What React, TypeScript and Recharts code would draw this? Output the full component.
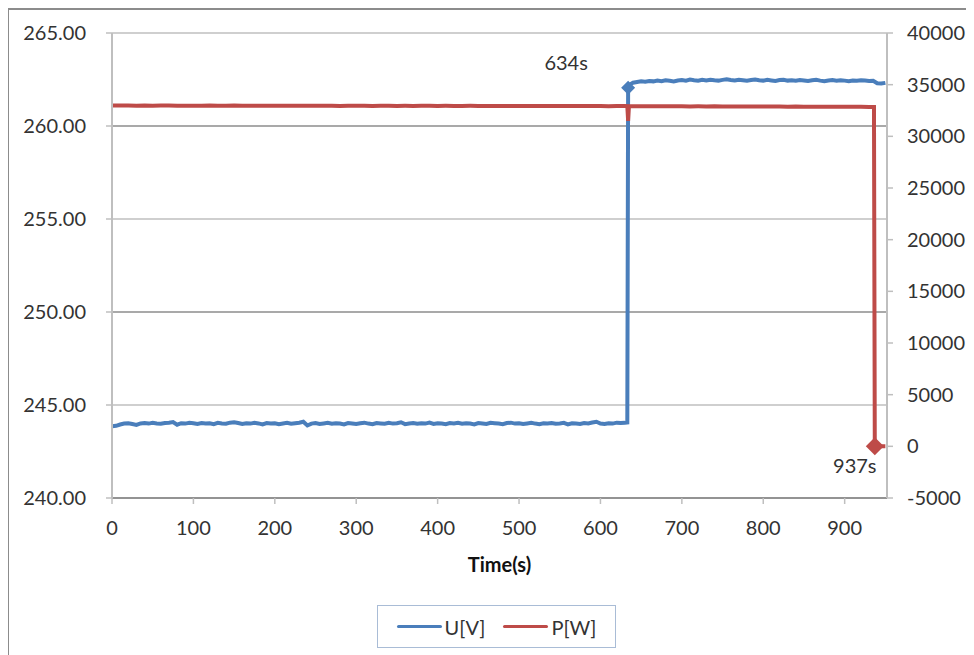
import React from "react";
import { LineChart, Line, XAxis, YAxis, CartesianGrid } from "recharts";

// time grid (s) - sampling grid only
const seq = (from: number, to: number, step: number) => {
  const out: number[] = [];
  for (let t = from; t <= to; t += step) out.push(t);
  return out;
};

const uTimes = [...seq(0, 630, 5), 633, 634, 637, ...seq(640, 950, 5)];
const uValues = [
  243.85, 243.88, 243.95, 244.0, 244.02, 243.98, 243.93, 244.01, 244.03, 244.0,
  244.04, 244.01, 243.99, 244.03, 244.05, 244.08, 243.94, 244.02, 244.0, 244.04,
  244.02, 243.98, 244.03, 244.0, 244.02, 243.97, 244.04, 244.01, 243.99, 244.05,
  244.07, 244.03, 243.98, 244.02, 244.0, 244.04, 244.01, 243.96, 244.03, 244.0,
  244.02, 243.97, 244.01, 244.04, 243.99, 244.02, 244.05, 244.1, 243.9, 244.0,
  244.03, 243.98, 244.01, 244.04, 243.99, 244.02, 244.0, 243.96, 244.03, 244.01,
  243.98, 244.02, 244.05, 244.0, 243.97, 244.03, 244.01, 243.99, 244.04, 244.0,
  244.02, 244.07, 243.97, 244.01, 244.03, 243.99, 244.02, 244.0, 244.05, 243.98,
  244.02, 244.0, 243.97, 244.03, 244.01, 244.04, 243.99, 244.02, 244.0, 243.96,
  244.03, 244.01, 243.98, 244.04, 244.02, 244.0, 243.97, 244.03, 244.05, 244.0,
  244.02, 243.98, 244.01, 244.04, 244.0, 243.97, 244.02, 244.0, 244.03, 243.99,
  244.01, 244.04, 243.96, 244.02, 244.0, 243.98, 244.03, 244.01, 244.06, 244.1,
  244.0, 243.98, 244.02, 244.0, 244.05, 244.03, 244.04,
  244.06, 262.05, 262.25,
  262.33, 262.37, 262.4, 262.38, 262.42, 262.4, 262.44, 262.41, 262.46, 262.43,
  262.4, 262.45, 262.47, 262.44, 262.5, 262.46, 262.43, 262.48, 262.45, 262.49,
  262.46, 262.44, 262.48, 262.51, 262.47, 262.45, 262.49, 262.46, 262.43, 262.47,
  262.5, 262.46, 262.44, 262.48, 262.45, 262.42, 262.47, 262.49, 262.44, 262.46,
  262.43, 262.47, 262.45, 262.42, 262.46, 262.48, 262.44, 262.41, 262.45, 262.47,
  262.43, 262.46, 262.44, 262.41, 262.45, 262.43, 262.46, 262.44, 262.42, 262.43,
  262.3, 262.28, 262.32,
];

const pTimes = [...seq(0, 630, 10), 633, 634, 635, ...seq(640, 930, 10), 936, 937, 944, 950];
const pValues = [
  32980, 32975, 32985, 32970, 32978, 32965, 32972, 32980, 32968, 32960,
  32970, 32962, 32975, 32958, 32966, 32972, 32960, 32955, 32968, 32962,
  32950, 32960, 32955, 32965, 32948, 32958, 32952, 32962, 32945, 32955,
  32950, 32958, 32944, 32952, 32960, 32946, 32950, 32942, 32955, 32948,
  32940, 32950, 32945, 32938, 32948, 32942, 32935, 32945, 32940, 32932,
  32942, 32936, 32930, 32940, 32934, 32928, 32938, 32930, 32925, 32935,
  32928, 32922, 32930, 32925,
  32924, 31500, 32920,
  32915, 32908, 32918, 32905, 32912, 32900, 32910, 32898, 32905, 32895,
  32902, 32890, 32898, 32885, 32892, 32880, 32888, 32876, 32884, 32870,
  32878, 32866, 32874, 32862, 32868, 32858, 32864, 32852, 32860, 32850,
  32845, 0, 0, 0,
];

const xTicks = [0, 100, 200, 300, 400, 500, 600, 700, 800, 900];
const uTicks = [240, 245, 250, 255, 260, 265];
const pTicks = [-5000, 0, 5000, 10000, 15000, 20000, 25000, 30000, 35000, 40000];
const uMarkers = [634];
const pMarkers = [937];

const uData = uTimes.map((t, i) => ({ t, u: uValues[i] }));
const pData = pTimes.map((t, i) => ({ t, p: pValues[i] }));

const BLUE = "#4a7ebb";
const RED = "#be4b48";
const FONT = "Lato, 'Open Sans', sans-serif";
const TXT = "#333";

const markerDot = (marks: number[], color: string, size: number, dx: number, dy: number) =>
  (props: any) => {
    const { cx, cy, payload, index } = props;
    if (!marks.includes(payload.t)) return <g key={`d${index}`} />;
    return (
      <g key={`d${index}`}>
        <polygon
          points={`${cx},${cy - size} ${cx + size},${cy} ${cx},${cy + size} ${cx - size},${cy}`}
          fill={color}
        />
        <text x={cx + dx} y={cy + dy} textAnchor="middle" dominantBaseline="central"
          fontFamily={FONT} fontSize={20} fill={TXT}>
          {`${payload.t}s`}
        </text>
      </g>
    );
  };

const gridLine = (props: any) => {
  const { x1, x2, y1, y2, index } = props;
  // Excel render: alternating darker / lighter grid lines
  const dark = Math.round((490 - y1) / 93) % 2 === 0;
  return <line key={`g${index}`} x1={x1} x2={x2} y1={y1} y2={y2} stroke={dark ? "#8c8c8c" : "#bfbfbf"} strokeWidth={1.5} />;
};

export default function App() {
  const tickStyle = { fontFamily: FONT, fontSize: 20, fill: TXT };
  return (
    <div style={{ position: "relative", width: 966, height: 647 }}>
      <div style={{ position: "absolute", left: -2, top: 0, width: 968, height: 647,
        borderLeft: "3px solid #8c8c8c", borderTop: "2px solid #8c8c8c", boxSizing: "border-box" }} />
      <LineChart width={966} height={647} margin={{ top: 25, right: 0, left: 0, bottom: 97 }}
        style={{ position: "absolute", left: 0, top: 0 }}>
        <CartesianGrid yAxisId="u" vertical={false} horizontal={gridLine} />
        <XAxis dataKey="t" type="number" domain={[0, 952]} ticks={xTicks} allowDataOverflow
          height={60} tickSize={6} tickMargin={17} tick={tickStyle}
          axisLine={{ stroke: "#8c8c8c", strokeWidth: 1.5 }} tickLine={{ stroke: "#bfbfbf", strokeWidth: 1.5 }}
          label={{ value: "Time(s)", position: "bottom", offset: 0, fontFamily: FONT, fontSize: 20, fontWeight: 700, fill: "#111" }} />
        <YAxis yAxisId="u" orientation="left" width={104} domain={[240, 265]} ticks={uTicks}
          tickFormatter={(v: number) => v.toFixed(2)} tickSize={6} tickMargin={20} tick={tickStyle}
          axisLine={{ stroke: "#bfbfbf", strokeWidth: 2 }} tickLine={{ stroke: "#bfbfbf", strokeWidth: 1.5 }} />
        <YAxis yAxisId="p" orientation="right" width={87} domain={[-5000, 40000]} ticks={pTicks}
          tickSize={6} tickMargin={14} tick={tickStyle}
          axisLine={{ stroke: "#bfbfbf", strokeWidth: 2 }} tickLine={{ stroke: "#bfbfbf", strokeWidth: 1.5 }} />
        <Line yAxisId="u" data={uData} dataKey="u" stroke={BLUE} strokeWidth={4} type="linear"
          dot={markerDot(uMarkers, BLUE, 7, -62, -26)} activeDot={false} isAnimationActive={false} />
        <Line yAxisId="p" data={pData} dataKey="p" stroke={RED} strokeWidth={4} type="linear"
          dot={markerDot(pMarkers, RED, 9, -20, 19)} activeDot={false} isAnimationActive={false} />
      </LineChart>
      <div style={{ position: "absolute", left: 369, top: 597, width: 239, height: 43, boxSizing: "border-box",
        border: "1px solid #a9bcd6", display: "flex", alignItems: "center", justifyContent: "center",
        fontFamily: FONT, fontSize: 20, color: TXT }}>
        <span style={{ display: "inline-block", width: 45, height: 3, background: BLUE, borderRadius: 2, marginRight: 3 }} />
        <span style={{ marginRight: 18 }}>U[V]</span>
        <span style={{ display: "inline-block", width: 45, height: 3, background: RED, borderRadius: 2, marginRight: 3 }} />
        <span>P[W]</span>
      </div>
    </div>
  );
}
